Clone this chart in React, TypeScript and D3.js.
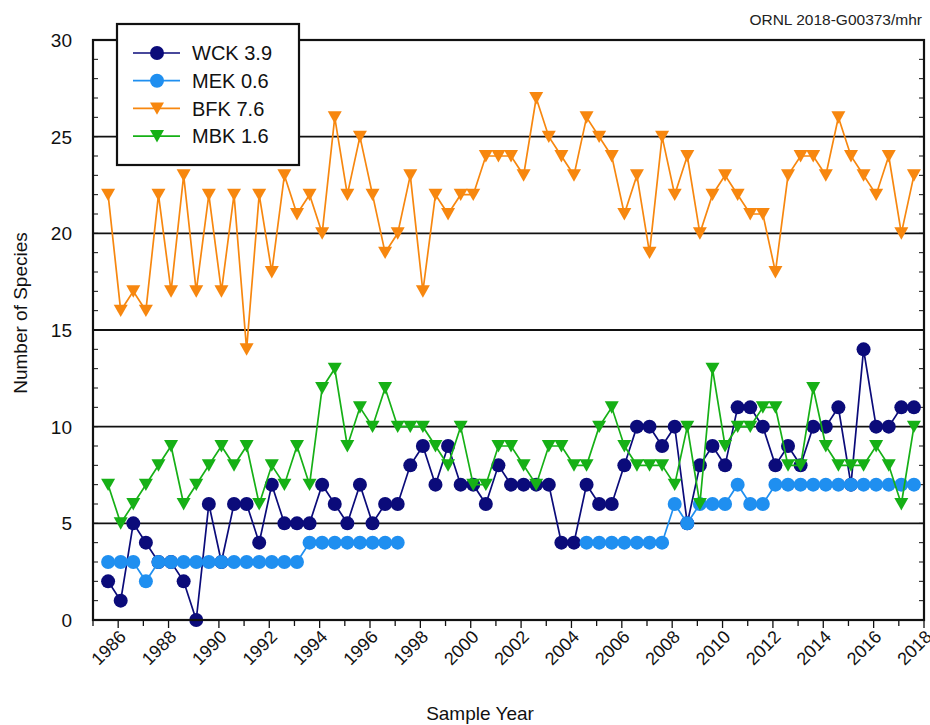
import React from "react";
import * as d3 from "d3";

const DATES = [
  1985.6, 1986.1, 1986.6, 1987.1, 1987.6, 1988.1, 1988.6, 1989.1, 1989.6, 1990.1,
  1990.6, 1991.1, 1991.6, 1992.1, 1992.6, 1993.1, 1993.6, 1994.1, 1994.6, 1995.1,
  1995.6, 1996.1, 1996.6, 1997.1, 1997.6, 1998.1, 1998.6, 1999.1, 1999.6, 2000.1,
  2000.6, 2001.1, 2001.6, 2002.1, 2002.6, 2003.1, 2003.6, 2004.1, 2004.6, 2005.1,
  2005.6, 2006.1, 2006.6, 2007.1, 2007.6, 2008.1, 2008.6, 2009.1, 2009.6, 2010.1,
  2010.6, 2011.1, 2011.6, 2012.1, 2012.6, 2013.1, 2013.6, 2014.1, 2014.6, 2015.1,
  2015.6, 2016.1, 2016.6, 2017.1, 2017.6,
];

const WCK = [
  2, 1, 5, 4, 3, 3, 2, 0, 6, 3,
  6, 6, 4, 7, 5, 5, 5, 7, 6, 5,
  7, 5, 6, 6, 8, 9, 7, 9, 7, 7,
  6, 8, 7, 7, 7, 7, 4, 4, 7, 6,
  6, 8, 10, 10, 9, 10, 5, 8, 9, 8,
  11, 11, 10, 8, 9, 8, 10, 10, 11, 7,
  14, 10, 10, 11, 11,
];

const MEK: (number | null)[] = [
  3, 3, 3, 2, 3, 3, 3, 3, 3, 3,
  3, 3, 3, 3, 3, 3, 4, 4, 4, 4,
  4, 4, 4, 4, null, null, null, null, null, null,
  null, null, null, null, null, null, null, null, 4, 4,
  4, 4, 4, 4, 4, 6, 5, 6, 6, 6,
  7, 6, 6, 7, 7, 7, 7, 7, 7, 7,
  7, 7, 7, 7, 7,
];

const BFK = [
  22, 16, 17, 16, 22, 17, 23, 17, 22, 17,
  22, 14, 22, 18, 23, 21, 22, 20, 26, 22,
  25, 22, 19, 20, 23, 17, 22, 21, 22, 22,
  24, 24, 24, 23, 27, 25, 24, 23, 26, 25,
  24, 21, 23, 19, 25, 22, 24, 20, 22, 23,
  22, 21, 21, 18, 23, 24, 24, 23, 26, 24,
  23, 22, 24, 20, 23,
];

const MBK = [
  7, 5, 6, 7, 8, 9, 6, 7, 8, 9,
  8, 9, 6, 8, 7, 9, 7, 12, 13, 9,
  11, 10, 12, 10, 10, 10, 9, 8, 10, 7,
  7, 9, 9, 8, 7, 9, 9, 8, 8, 10,
  11, 9, 8, 8, 8, 7, 10, 6, 13, 9,
  10, 10, 11, 11, 8, 8, 12, 9, 8, 8,
  8, 9, 8, 6, 10,
];

const SERIES_NAMES = ["WCK 3.9", "MEK 0.6", "BFK 7.6", "MBK 1.6"];
const SERIES_VALUES = [WCK, MEK, BFK, MBK];
const SERIES_COLORS = ["#0b0b7a", "#1f8ff0", "#f7870f", "#16b016"];
const SERIES_SHAPES = ["circle", "circle", "triangle", "triangle"];

const Y_TICKS = [0, 5, 10, 15, 20, 25, 30];
const X_LABEL_YEARS = [1986, 1988, 1990, 1992, 1994, 1996, 1998, 2000, 2002, 2004, 2006, 2008, 2010, 2012, 2014, 2016, 2018];

const FONT = "'Liberation Sans', Arial, Helvetica, sans-serif";

const W = 930;
const H = 725;
const L = 93;
const R = 924;
const T = 40;
const B = 620;

const TRI = "M-7,-6L7,-6L0,6.4Z";

function Marker({ shape, x, y, color }: { shape: string; x: number; y: number; color: string }) {
  if (shape === "circle") return <circle cx={x} cy={y} r={7} fill={color} />;
  return <path d={TRI} transform={`translate(${x},${y})`} fill={color} />;
}

export default function App() {
  const x = d3.scaleLinear().domain([1985, 2018]).range([L, R]);
  const y = d3.scaleLinear().domain([0, 30]).range([B, T]);

  const yearTicks = d3.range(1985, 2019);
  const minorY = d3.range(0, 31);

  const line = d3
    .line<[number, number | null]>()
    .defined((d) => d[1] != null)
    .x((d) => x(d[0]))
    .y((d) => y(d[1] as number));

  const legendX = 117;
  const legendY = 24;
  const rowH = 27.7;

  return (
    <svg
      width={W}
      height={H}
      style={{ position: "fixed", left: 0, top: 0, background: "#fff" }}
      fontFamily={FONT}
    >
      <rect x={0} y={0} width={W} height={H} fill="#fff" />
      <text x={922} y={25} textAnchor="end" fontSize={15.5} fill="#222">
        ORNL 2018-G00373/mhr
      </text>

      {/* gridlines */}
      {Y_TICKS.filter((v) => v > 0 && v < 30).map((v) => (
        <line key={"g" + v} x1={L} x2={R} y1={y(v)} y2={y(v)} stroke="#111" strokeWidth={1.8} />
      ))}

      {/* minor y ticks (inward, both sides) */}
      {minorY.map((v) => (
        <g key={"my" + v}>
          <line x1={L} x2={L + 5} y1={y(v)} y2={y(v)} stroke="#111" strokeWidth={1} />
          <line x1={R - 5} x2={R} y1={y(v)} y2={y(v)} stroke="#111" strokeWidth={1} />
        </g>
      ))}

      {/* x ticks outward */}
      {yearTicks.map((yr) => (
        <line
          key={"xt" + yr}
          x1={x(yr)}
          x2={x(yr)}
          y1={B}
          y2={B + (yr % 2 === 0 ? 8 : 6)}
          stroke="#111"
          strokeWidth={1.3}
        />
      ))}

      {/* y labels */}
      {Y_TICKS.map((v) => (
        <text key={"yl" + v} x={72} y={y(v)} dy="0.36em" textAnchor="end" fontSize={19} fill="#111">
          {v}
        </text>
      ))}

      {/* x labels */}
      {X_LABEL_YEARS.map((yr) => (
        <text
          key={"xl" + yr}
          transform={`translate(${x(yr) + 9},${B + 18}) rotate(-45)`}
          textAnchor="end"
          fontSize={18}
          fill="#111"
        >
          {yr}
        </text>
      ))}

      {/* axis titles */}
      <text x={480} y={720} textAnchor="middle" fontSize={19} fill="#111">
        Sample Year
      </text>
      <text transform={`translate(27,313) rotate(-90)`} textAnchor="middle" fontSize={19} fill="#111">
        Number of Species
      </text>

      {/* series */}
      {SERIES_VALUES.map((vals, si) => {
        const pts: [number, number | null][] = DATES.map((d, i) => [d, vals[i]]);
        return (
          <g key={"s" + si}>
            <path d={line(pts) || ""} fill="none" stroke={SERIES_COLORS[si]} strokeWidth={1.7} />
            {pts
              .filter((p) => p[1] != null)
              .map((p, i) => (
                <Marker key={i} shape={SERIES_SHAPES[si]} x={x(p[0])} y={y(p[1] as number)} color={SERIES_COLORS[si]} />
              ))}
          </g>
        );
      })}

      {/* frame */}
      <rect x={L} y={T} width={R - L} height={B - T} fill="none" stroke="#111" strokeWidth={2.2} />

      {/* legend */}
      <rect x={legendX} y={legendY} width={182} height={141} fill="#fff" stroke="#111" strokeWidth={2.2} />
      {SERIES_NAMES.map((name, i) => {
        const cy = legendY + 29 + i * rowH;
        return (
          <g key={"lg" + i}>
            <line x1={133} x2={180} y1={cy} y2={cy} stroke={SERIES_COLORS[i]} strokeWidth={1.7} />
            <Marker shape={SERIES_SHAPES[i]} x={157} y={cy} color={SERIES_COLORS[i]} />
            <text x={192} y={cy} dy="0.36em" fontSize={20} fill="#111">
              {name}
            </text>
          </g>
        );
      })}
    </svg>
  );
}
